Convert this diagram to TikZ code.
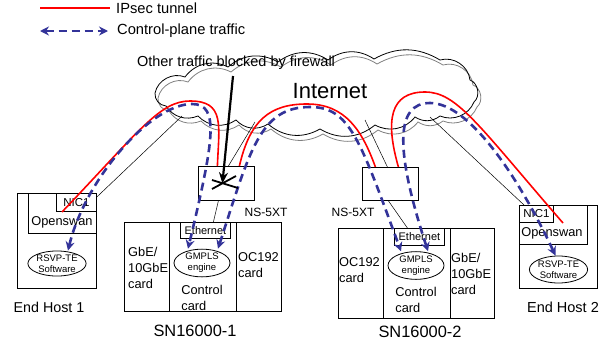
\documentclass[tikz,border=0pt]{standalone}
\usepackage{fontspec}
\setmainfont{Liberation Sans}
\usetikzlibrary{arrows.meta,shapes.geometric}

\definecolor{ctrlblue}{RGB}{51,51,153}
\newcommand*\setsz[2][16]{\fontsize{#2}{#1}\selectfont}
% outline of the Internet cloud, puff by puff
\newcommand*\cloudoutline{(155,93) to[bend left=50] (185,77) to[bend left=40] (228,67)
  to[bend left=35] (278,62) to[bend left=35] (328,60) to[bend left=35] (374,59)
  to[bend left=30] (440,60) to[bend left=50] (470,80) to[bend left=60] (474,102)
  to[bend left=45] (440,116) to[bend left=35] (415,117) to[bend left=40] (375,125)
  to[bend left=35] (320,129) to[bend left=35] (268,124) to[bend left=40] (236,120)
  to[bend left=40] (198,116) to[bend left=40] (166,106) to[bend left=45] (155,93)}

\tikzset{
  box/.style 2 args={draw, rectangle, line width=0.8pt, anchor=north west,
    minimum width=#1, minimum height=#2},
  soft/.style 2 args={draw, ellipse, line width=0.8pt, minimum width=#1,
    minimum height=#2, align=center, font=\setsz[11]{9.5}},
  txt/.style={font=\setsz{12.8}, align=left},
  tunnel/.style={draw=red, line width=1.6pt},
  ctrl/.style={draw=ctrlblue, line width=2.6pt, dash pattern=on 8pt off 5pt,
    {Stealth[length=9pt,width=9pt]}-{Stealth[length=9pt,width=9pt]}},
  link/.style={draw, line width=0.5pt}
}

\begin{document}
\begin{tikzpicture}[x=1pt, y=-1pt, inner sep=0pt]
  \useasboundingbox (0,0) rectangle (609,343);

  % Legend.
  \node[txt, font=\setsz{14.7}, anchor=west] (keytun) at (116,8) {IPsec tunnel};
  \node[txt, font=\setsz{14.7}, anchor=west] (keyctl) at (117,31) {Control-plane traffic};
  \coordinate (keytun0) at (40,8);
  \coordinate (keyctl0) at (40,31);
  \draw[tunnel] (keytun0) -- ([xshift=-6pt]keytun.west);
  \draw[ctrl] (keyctl0) -- ([xshift=-9pt]keyctl.west);

  % The Internet cloud and its grey shadow.
  \draw[gray, line width=0.8pt, shift={(3,5)}] \cloudoutline;
  \draw[line width=0.8pt] \cloudoutline;
  \node[font=\setsz{22}] (nettxt) at (330,91) {Internet};
  \node[font=\setsz{14.5}] (blocktxt) at (236,63) {Other traffic blocked by firewall};

  % End host 1.
  \node[box={79pt}{95pt}] (host1) at (17,193) {};
  \node[box={68pt}{40pt}] (osw1) at (28,193) {};
  \node[box={40pt}{18pt}] (nic1) at (56,193) {};
  \node[txt, font=\setsz{11.5}] (nic1txt) at (nic1.center) {NIC1};
  \node[txt] (osw1txt) at (62,222) {Openswan};
  \node[soft={56pt}{23pt}] (rsvp1) at (57,263.5) {RSVP-TE\\Software};
  \node[font=\setsz{14.3}] (host1txt) at (49,307) {End Host 1};

  % SN16000-1: three cards side by side.
  \node[box={45pt}{89pt}] (gbe1) at (124,222) {};
  \node[box={67pt}{89pt}] (ctl1) at (169,222) {};
  \node[box={45pt}{89pt}] (oc1) at (236,222) {};
  \node[box={50pt}{16pt}] (eth1) at (180,222) {};
  \node[txt, font=\setsz{11}] (eth1txt) at (eth1.center) {Ethernet};
  \node[soft={56pt}{27pt}] (gmpls1) at (202,263) {GMPLS\\engine};
  \node[txt, anchor=west] (gbe1txt) at (128,268) {GbE/\\10GbE\\card};
  \node[txt] (ctl1txt) at (202,298) {Control\\card};
  \node[txt, anchor=west] (oc1txt) at (238,265) {OC192\\card};
  \node[font=\setsz{16.4}] (sn1txt) at (195,331) {SN16000-1};

  % Firewall 1.
  \node[box={56pt}{34pt}] (fw1) at (198,166) {};
  \node[txt, font=\setsz{12}] (fw1txt) at (266,212) {NS-5XT};

  % Firewall 2.
  \node[box={56pt}{33pt}] (fw2) at (362,167) {};
  \node[txt, font=\setsz{12}] (fw2txt) at (353,212) {NS-5XT};

  % SN16000-2, mirrored.
  \node[box={45pt}{90pt}] (oc2) at (338,228) {};
  \node[box={67pt}{90pt}] (ctl2) at (383,228) {};
  \node[box={44pt}{90pt}] (gbe2) at (450,228) {};
  \node[box={50pt}{17pt}] (eth2) at (394,228) {};
  \node[txt, font=\setsz{11}] (eth2txt) at (eth2.center) {Ethernet};
  \node[soft={56pt}{25pt}] (gmpls2) at (416,265.5) {GMPLS\\engine};
  \node[txt, anchor=west] (oc2txt) at (339,270) {OC192\\card};
  \node[txt] (ctl2txt) at (416,299.5) {Control\\card};
  \node[txt, anchor=west] (gbe2txt) at (451,274) {GbE/\\10GbE\\card};
  \node[font=\setsz{16.4}] (sn2txt) at (420,332) {SN16000-2};

  % End host 2.
  \node[box={78pt}{83pt}] (host2) at (519,205) {};
  \node[box={68pt}{39pt}] (osw2) at (519,205) {};
  \node[box={34pt}{17pt}] (nic2) at (519,205) {};
  \node[txt, font=\setsz{11.5}] (nic2txt) at (nic2.center) {NIC1};
  \node[txt] (osw2txt) at (552,233) {Openswan};
  \node[soft={57pt}{27pt}] (rsvp2) at (558.5,269.5) {RSVP-TE\\Software};
  \node[font=\setsz{14.5}] (host2txt) at (563,307) {End Host 2};

  % Physical links up to the cloud.
  \coordinate (net1) at (182,116);
  \coordinate (net2) at (255,122);
  \coordinate (net3) at (365,120);
  \coordinate (net4) at (430,117);
  \draw[link] ([yshift=-4pt]nic1.north east) -- (net1);
  \draw[link] ([xshift=2pt]fw1.north) -- (net2);
  \draw[link] ([xshift=-8pt]fw1.south) -- ([xshift=8pt]eth1.north);
  \draw[link] ([xshift=-3pt]fw2.north) -- (net3);
  \draw[link] ([xshift=-2pt]fw2.south) -- ([xshift=-12pt]eth2.north);
  \draw[link] ([xshift=5pt]nic2.north west) -- (net4);

  % IPsec tunnels, ending at the firewalls.
  \coordinate (tun1) at (62,212);
  \coordinate (tun2) at (563,223);
  \draw[tunnel] (tun1) .. controls (140,130) and (160,101) .. (190,101)
    .. controls (225,101) and (219,125) .. ([xshift=-9pt]fw1.north);
  \draw[tunnel] ([xshift=13pt]fw1.north) .. controls (250,120) and (270,104) .. (307,104)
    .. controls (345,104) and (362,130) .. ([xshift=-15pt]fw2.north);
  \draw[tunnel] ([xshift=8pt]fw2.north) .. controls (385,120) and (390,92) .. (425,92)
    .. controls (457,92) and (478,125) .. (tun2);

  % Control-plane traffic between the signalling engines.
  \draw[ctrl] ([xshift=11pt]rsvp1.north) .. controls (85,180) and (150,104) .. (192,104)
    .. controls (220,104) and (214,140) .. ([xshift=-14pt]gmpls1.north);
  \draw[ctrl] ([xshift=16pt]gmpls1.north) .. controls (250,150) and (260,107) .. (310,107)
    .. controls (350,107) and (360,140) .. ([xshift=-15pt]gmpls2.north);
  \draw[ctrl] ([xshift=12pt]gmpls2.north) .. controls (395,150) and (395,103) .. (430,103)
    .. controls (470,103) and (520,180) .. ([xshift=-3pt]rsvp2.north);

  % Everything else is stopped at firewall 1.
  \coordinate (blk) at (233,76);
  \draw[line width=2.2pt, -{Stealth[length=11pt,width=9pt]}] (blk) -- ([xshift=-4pt]fw1.center);
  \draw[line width=1.8pt] (212,180) -- (238,188) (212,189) -- (236,176);
\end{tikzpicture}
\end{document}
